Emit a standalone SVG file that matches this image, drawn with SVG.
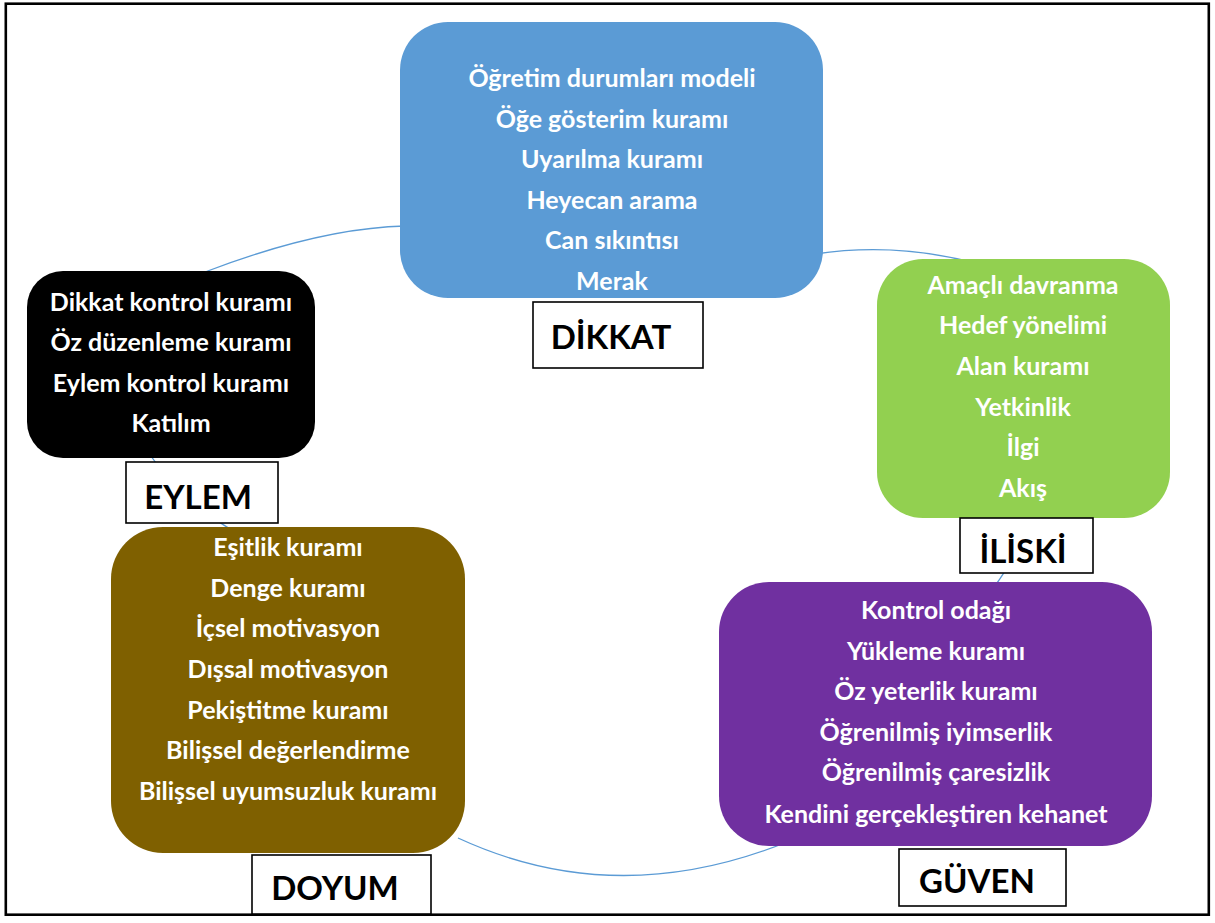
<svg xmlns="http://www.w3.org/2000/svg" width="1215" height="923" viewBox="0 0 1215 923">
  <defs>
    <style>
      .item { font-family: Lato, "Liberation Sans", sans-serif; font-weight: 700; font-size: 25px; fill: #ffffff; text-anchor: middle; }
      .tag { fill: #ffffff; stroke: #000000; stroke-width: 1.6; }
      .tagtext { font-family: Lato, "Liberation Sans", sans-serif; font-weight: 700; font-size: 33px; fill: #000000; text-anchor: middle; }
      .link { fill: none; stroke: #5B9BD5; stroke-width: 1.3; }
    </style>
  </defs>

  <rect x="0" y="0" width="1215" height="923" fill="#ffffff"/>
  <rect x="5.8" y="3.7" width="1203" height="911" fill="none" stroke="#000000" stroke-width="2.6"/>

  <!-- cycle arcs, drawn beneath the nodes -->
  <g id="connectors">
    <path class="link" d="M205,272 Q320,228 405,226"/>
    <path class="link" d="M815,254 Q895,242 975,263"/>
    <path class="link" d="M1036,505 Q1025,545 992,590"/>
    <path class="link" d="M458,838 Q618,912 792,840"/>
    <path class="link" d="M148,452 Q180,500 235,532"/>
  </g>

  <g id="node-dikkat">
    <rect x="400" y="22" width="423" height="276" rx="48" fill="#5B9BD5"/>
    <text class="item" x="612" y="87">Öğretim durumları modeli</text>
    <text class="item" x="612" y="127.5">Öğe gösterim kuramı</text>
    <text class="item" x="612" y="168">Uyarılma kuramı</text>
    <text class="item" x="612" y="209">Heyecan arama</text>
    <text class="item" x="612" y="249">Can sıkıntısı</text>
    <text class="item" x="612" y="290">Merak</text>
    <rect class="tag" x="533" y="302" width="170" height="66"/>
    <text class="tagtext" x="611" y="349">DİKKAT</text>
  </g>

  <g id="node-iliski">
    <rect x="877" y="259" width="293" height="259" rx="46" fill="#92D050"/>
    <text class="item" x="1023" y="294">Amaçlı davranma</text>
    <text class="item" x="1023" y="334">Hedef yönelimi</text>
    <text class="item" x="1023" y="375">Alan kuramı</text>
    <text class="item" x="1023" y="416">Yetkinlik</text>
    <text class="item" x="1023" y="456">İlgi</text>
    <text class="item" x="1023" y="497">Akış</text>
    <rect class="tag" x="960" y="518" width="133" height="55"/>
    <text class="tagtext" x="1023" y="563">İLİSKİ</text>
  </g>

  <g id="node-guven">
    <rect x="719" y="582" width="433" height="264" rx="50" fill="#7030A0"/>
    <text class="item" x="936" y="619">Kontrol odağı</text>
    <text class="item" x="936" y="660">Yükleme kuramı</text>
    <text class="item" x="936" y="700">Öz yeterlik kuramı</text>
    <text class="item" x="936" y="741">Öğrenilmiş iyimserlik</text>
    <text class="item" x="936" y="781">Öğrenilmiş çaresizlik</text>
    <text class="item" x="936" y="823">Kendini gerçekleştiren kehanet</text>
    <rect class="tag" x="899" y="849" width="167" height="57"/>
    <text class="tagtext" x="977" y="893">GÜVEN</text>
  </g>

  <g id="node-doyum">
    <rect x="111" y="527" width="354" height="326" rx="52" fill="#7F6000"/>
    <text class="item" x="288" y="556">Eşitlik kuramı</text>
    <text class="item" x="288" y="597">Denge kuramı</text>
    <text class="item" x="288" y="637">İçsel motivasyon</text>
    <text class="item" x="288" y="678">Dışsal motivasyon</text>
    <text class="item" x="288" y="719">Pekiştitme kuramı</text>
    <text class="item" x="288" y="759">Bilişsel değerlendirme</text>
    <text class="item" x="288" y="800">Bilişsel uyumsuzluk kuramı</text>
    <rect class="tag" x="252" y="855" width="179" height="59"/>
    <text class="tagtext" x="335" y="900">DOYUM</text>
  </g>

  <g id="node-eylem">
    <rect x="27" y="271" width="288" height="187" rx="36" fill="#000000"/>
    <text class="item" x="171" y="311">Dikkat kontrol kuramı</text>
    <text class="item" x="171" y="351">Öz düzenleme kuramı</text>
    <text class="item" x="171" y="392">Eylem kontrol kuramı</text>
    <text class="item" x="171" y="432">Katılım</text>
    <rect class="tag" x="126" y="462" width="152" height="61"/>
    <text class="tagtext" x="198" y="509">EYLEM</text>
  </g>
</svg>
